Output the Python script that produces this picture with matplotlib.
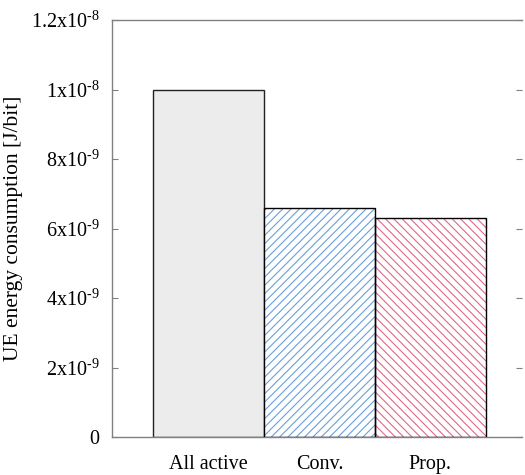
import matplotlib
matplotlib.use("Agg")
import matplotlib.pyplot as plt
import numpy as np

plt.rcParams["font.family"] = ["Liberation Serif", "DejaVu Serif"]
plt.rcParams["mathtext.fontset"] = "custom"
plt.rcParams["mathtext.rm"] = "Liberation Serif"
plt.rcParams["mathtext.it"] = "Liberation Serif:italic"
plt.rcParams["hatch.linewidth"] = 0.8

categories = ["All active", "Conv.", "Prop."]
energy = [1.0e-8, 6.6e-9, 6.3e-9]
fills = ["#ececec", "white", "white"]
hatch_colors = [None, "#6a9fdc", "#e0678a"]
hatches = [None, "////", "\\\\\\\\"]

yticks = [0, 2e-9, 4e-9, 6e-9, 8e-9, 1e-8, 1.2e-8]
ytick_labels = ["0", "$\\mathregular{2x10^{\u2010 9}}$", "$\\mathregular{4x10^{\u2010 9}}$",
                "$\\mathregular{6x10^{\u2010 9}}$", "$\\mathregular{8x10^{\u2010 9}}$",
                "$\\mathregular{1x10^{\u2010 8}}$", "$\\mathregular{1.2x10^{\u2010 8}}$"]

fig = plt.figure(figsize=(5.25, 4.75), dpi=100)
ax = fig.add_axes([112 / 525, 1 - 437 / 475, 410 / 525, 417 / 475])

x = np.arange(len(categories))
for i in range(len(categories)):
    if hatches[i]:
        ax.bar(x[i], energy[i], width=1.0, color=fills[i], edgecolor=hatch_colors[i],
               hatch=hatches[i], linewidth=0, zorder=2)
        ax.bar(x[i], energy[i], width=1.0, fill=False, edgecolor="black", linewidth=1.0, zorder=3)
    else:
        ax.bar(x[i], energy[i], width=1.0, color=fills[i], edgecolor="#222222", linewidth=1.0, zorder=2)

ax.set_xlim(-0.869, 2.825)
ax.set_ylim(0, 1.2e-8)
ax.set_xticks(x)
ax.set_xticklabels(categories, fontsize=14.5)
ax.set_yticks(yticks)
ax.set_yticklabels(ytick_labels, fontsize=14.5)
ax.tick_params(axis="x", length=0, pad=13)
ax.tick_params(axis="y", direction="in", length=4.5, width=0.8, color="#808080",
               right=True, pad=9)
ax.set_ylabel("UE energy consumption [J/bit]", fontsize=15.5)
ax.yaxis.set_label_coords(-0.218, 0.5)

for side in ["left", "bottom", "top"]:
    ax.spines[side].set_color("#808080")
    ax.spines[side].set_linewidth(1.0)
ax.spines["right"].set_visible(False)

fig.savefig("out.png", dpi=100)
